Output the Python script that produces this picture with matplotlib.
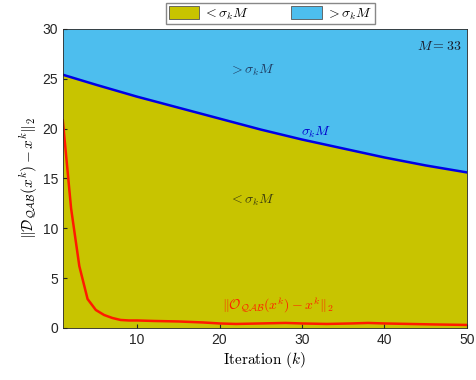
import matplotlib
matplotlib.use("Agg")
import matplotlib.pyplot as plt
from matplotlib.patches import Patch

# threshold sigma_k * M
k_sigma = [1, 5, 10, 15, 20, 25, 30, 35, 40, 45, 50]
sigma_M = [25.4, 24.4, 23.2, 22.1, 21.0, 19.9, 18.9, 18.0, 17.1, 16.3, 15.6]

# residual ||O_QAB(x^k) - x^k||_2
k_res = [1, 2, 3, 4, 5, 6, 7, 8, 9, 10, 12, 15, 18, 20, 22, 25, 28, 30,
         33, 36, 38, 40, 43, 46, 50]
residual = [20.8, 12.0, 6.2, 2.9, 1.8, 1.3, 1.0, 0.8, 0.75, 0.75, 0.7, 0.65,
            0.55, 0.45, 0.4, 0.45, 0.5, 0.45, 0.4, 0.45, 0.5, 0.45, 0.4, 0.35, 0.3]

y_top = 30
col_low = '#C8C400'
col_high = '#4DBEEE'

plt.rcParams['mathtext.fontset'] = 'cm'
plt.rcParams['font.family'] = 'Liberation Sans'

fig = plt.figure(figsize=(4.76, 3.8), dpi=100)
ax = fig.add_axes([0.132, 0.137, 0.849, 0.787])

ax.fill_between(k_sigma, 0, sigma_M, color=col_low, lw=0)
ax.fill_between(k_sigma, sigma_M, y_top, color=col_high, lw=0)
ax.plot(k_sigma, sigma_M, color='#0000E6', lw=1.8)
ax.plot(k_res, residual, color='#FF1A00', lw=1.8)

ax.set_xlim(1, 50)
ax.set_ylim(0, y_top)
ax.set_xticks([10, 20, 30, 40, 50])
ax.set_yticks(range(0, 31, 5))
ax.tick_params(direction='in', labelsize=10, colors='#262626', length=3)
for s in ax.spines.values():
    s.set_color('#262626')
    s.set_linewidth(0.6)

ax.set_xlabel(r'$\mathrm{Iteration}\ (k)$', fontsize=11, labelpad=2)
ax.set_ylabel(r'$\|\mathcal{D}_{\mathcal{QAB}}(x^k) - x^k\|_2$', fontsize=11, labelpad=2)

ax.text(24, 25.8, r'$>\sigma_k M$', fontsize=10, ha='center', va='center', color='#1F3A5F')
ax.text(24, 12.8, r'$<\sigma_k M$', fontsize=10, ha='center', va='center', color='#3A3A10')
ax.text(31.7, 19.6, r'$\sigma_k M$', fontsize=10, ha='center', va='center', color='#0000CC')
ax.text(49.3, 28.3, r'$M = 33$', fontsize=10, ha='right', va='center', color='#1A1A2A')
ax.text(27.0, 2.3, r'$\|\mathcal{O}_{\mathcal{QAB}}(x^k) - x^k\|_2$', fontsize=10,
        ha='center', va='center', color='#FF2000')

handles = [Patch(facecolor=col_low, edgecolor='#555555', lw=0.6),
           Patch(facecolor=col_high, edgecolor='#555555', lw=0.6)]
ax.legend(handles, [r'$<\sigma_k M$', r'$>\sigma_k M$'], ncol=2,
          loc='center', bbox_to_anchor=(0.513, 1.05), fontsize=10,
          frameon=True, fancybox=False, edgecolor='#888888', framealpha=1,
          borderpad=0.2, handlelength=2.2, handleheight=1.0, columnspacing=3.0,
          handletextpad=0.3)

fig.savefig('out.png', dpi=100)
